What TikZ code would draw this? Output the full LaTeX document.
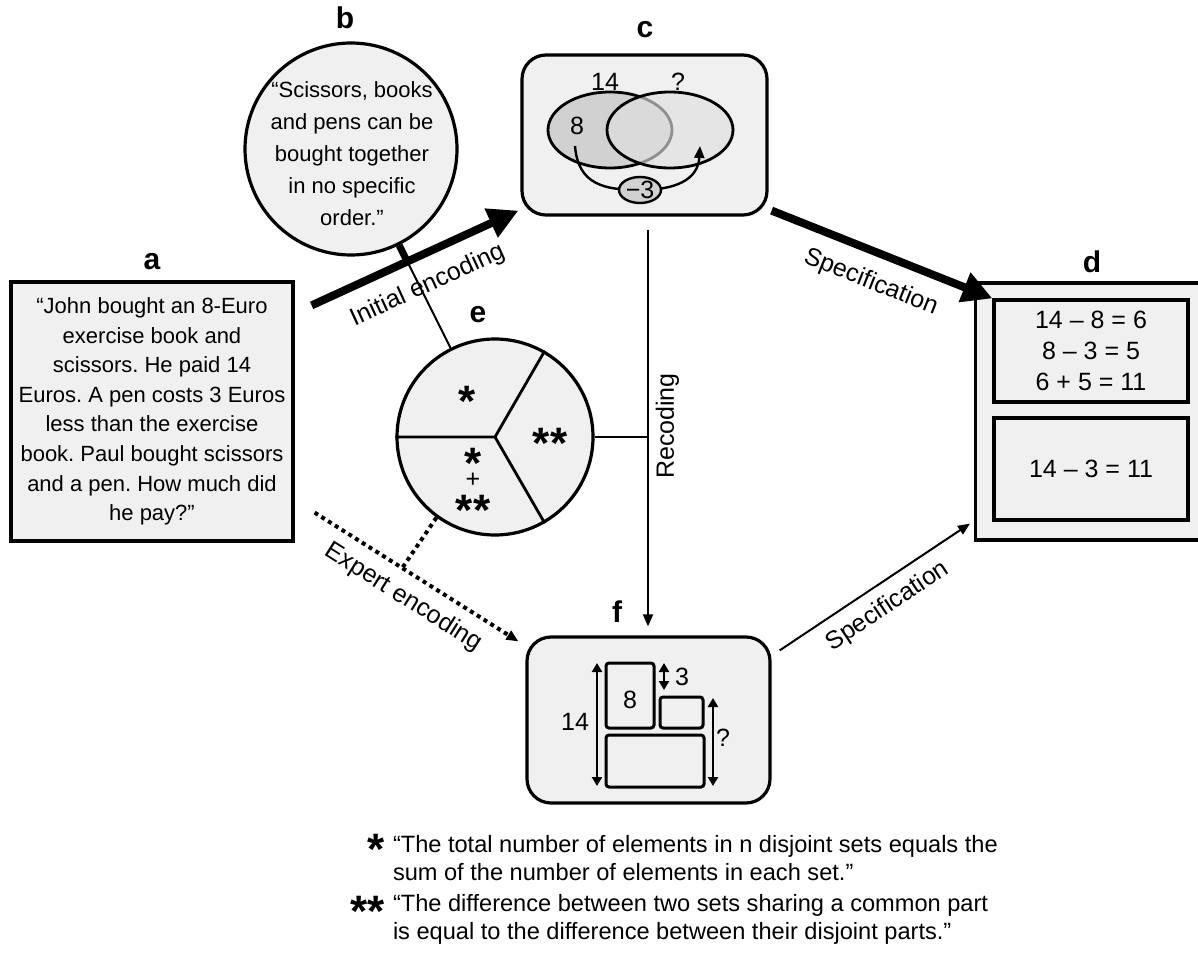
\documentclass[tikz,border=0pt]{standalone}
\usepackage{fontspec}
\setmainfont{Liberation Sans}
\frenchspacing
\usetikzlibrary{arrows.meta,calc,positioning,shapes.geometric}
\definecolor{panelgrey}{gray}{0.94}
\definecolor{leftset}{gray}{0.82}
\definecolor{rightset}{gray}{0.88}
\definecolor{minusgrey}{gray}{0.82}
\tikzset{
  panel/.style={draw,line width=1.6pt,fill=panelgrey,inner sep=0pt},
  roundpanel/.style={panel,rounded corners=12pt},
  tag/.style={font=\fontsize{15}{15}\selectfont\bfseries},
  txt/.style={font=\fontsize{12.5}{15.5}\selectfont,align=center},
  star/.style={font=\fontsize{22}{22}\selectfont\bfseries,inner sep=0pt,anchor=base},
  bigarrow/.style={line width=4pt,-{Triangle[length=15pt,width=15pt]}},
  dotline/.style={line width=2pt,dash pattern=on 2pt off 2pt},
  dimarrow/.style={line width=1.2pt,{Triangle[length=4.5pt,width=5pt]}-{Triangle[length=4.5pt,width=5pt]}}
}
\begin{document}
\begin{tikzpicture}[x=0.5pt,y=-0.5pt,line width=1pt,>={Triangle[length=6pt,width=5pt]}]
\useasboundingbox (0,0) rectangle (1198,962);
% letters
\node[tag] (ta) at (152,262) {a};
\node[tag] (tb) at (345,18) {b};
\node[tag] (tc) at (645,30) {c};
\node[tag] (td) at (1092,262) {d};
\node[tag] (te) at (478,315) {e};
\node[tag] (tf) at (617,612) {f};
% panels
\node[panel,minimum width=141pt,minimum height=129.5pt,align=center,
      font=\fontsize{11}{14.8}\selectfont] (a) at (152,411.5)
  {“John bought an 8-Euro\\exercise book and\\scissors. He paid 14\\Euros. A pen costs 3 Euros\\less than the exercise\\book. Paul bought scissors\\and a pen. How much did\\he pay?”};
\node[panel,circle,minimum size=106pt] (b) at (351,149) {};
\node[txt,font=\fontsize{11}{16}\selectfont] (btext) at (352,154)
  {“Scissors, books\\and pens can be\\bought together\\in no specific\\order.”};
\node[roundpanel,minimum width=122.5pt,minimum height=80pt] (c) at (644.5,135) {};
\node[panel,anchor=west,minimum width=125pt,minimum height=128.5pt] (d) at (974,411.5) {};
\node[panel,minimum width=97pt,minimum height=51pt,txt] (d1) at (1091,351) {14 – 8 = 6\\8 – 3 = 5\\6 + 5 = 11};
\node[panel,minimum width=97pt,minimum height=51pt,txt] (d2) at (1091,469) {14 – 3 = 11};
\node[panel,circle,minimum size=98pt] (e) at (495,437) {};
\node[roundpanel,minimum width=121.5pt,minimum height=83pt] (f) at (648.5,720) {};
% venn in c
\node[ellipse,draw,line width=1.4pt,fill=leftset,minimum width=62pt,minimum height=38pt] (setL) at (610,130) {};
\node[ellipse,draw,line width=1.4pt,fill=rightset,fill opacity=0.64,minimum width=63pt,minimum height=38pt] (setR) at (670,130) {};
\node[txt] at (605,82) {14};
\node[txt] at (678,82) {?};
\node[txt] at (577,126) {8};
\draw[->,line width=1.2pt] (575,146) .. controls (578,185) and (605,190) .. (640,190)
  .. controls (675,190) and (698,180) .. (700,146);
\node[ellipse,draw,line width=1.2pt,fill=minusgrey,minimum width=21pt,minimum height=13pt,inner sep=0pt,txt] (minus) at (640,190) {−3};
% sectors of e
\draw[line width=1.4pt] (e.180) -- (e.center) -- (e.60)
  (e.center) -- (e.-60);
\node[star] at (467,416) {*};
\node[star] at (550,458) {**};
\node[star] at (473,478) {*};
\node[txt,anchor=base,inner sep=0pt] at (473,487) {+};
\node[star] at (473,525) {**};
% bars in f
\draw[line width=1.5pt,rounded corners=1.5pt] (606,663) rectangle (654,728)
  (660,697) rectangle (703,728) (606,735) rectangle (704,787);
\node[txt] at (630,700) {8};
\draw[dimarrow] (597,663) -- (597,786);
\node[txt] at (575,722) {14};
\draw[dimarrow] (664,663) -- (664,690);
\node[txt] at (682,677) {3};
\draw[dimarrow] (713,698) -- (713,786);
\node[txt] at (723,738) {?};
% connectors
\coordinate (rec) at (648,0);
\coordinate (cross) at ($(b)!0.4!(e)$);
\draw[line width=3.5pt] (b) -- (cross);
\draw (cross) -- (e);
\draw[bigarrow] ($(a.north east)+(17,25)$) -- node[sloped,below=4pt,txt] {Initial encoding} ($(c.south west)+(-2,-6)$);
\draw[bigarrow] ($(c.south east)+(3,-6)$) -- node[sloped,below=4pt,txt] {Specification} (d1.north west);
\draw[->,shorten <=6.5pt,shorten >=4.5pt] (c.south -| rec) -- node[rotate=90,anchor=north,txt] {Recoding} (f.north -| rec);
\draw (e.east) -- (e.east -| rec);
\draw[->] ($(f.north east)+(8,15)$) -- node[sloped,below=2pt,txt] {Specification} ($(d.south west)+(-4,-18)$);
\coordinate (ex1) at ($(a.south east)+(20,-30)$);
\coordinate (ex2) at ($(f.north west)+(-7,6)$);
\draw[dotline,->] (ex1) -- node[sloped,below=2pt,txt] {Expert encoding} (ex2);
\draw[dotline] (e.234) -- ($(ex1)!0.43!(ex2)$);
% footnotes
\node[star,anchor=base east] (s1) at (386,864) {*};
\node[anchor=north west,align=left,inner sep=0pt,font=\fontsize{11.8}{14}\selectfont] (n1) at (392,834)
  {“The total number of elements in n disjoint sets equals the\\sum of the number of elements in each set.”};
\node[star,anchor=base east] (s2) at (386,926) {**};
\node[anchor=north west,align=left,inner sep=0pt,font=\fontsize{11.8}{14}\selectfont] (n2) at (392,893)
  {“The difference between two sets sharing a common part\\is equal to the difference between their disjoint parts.”};
\end{tikzpicture}
\end{document}
